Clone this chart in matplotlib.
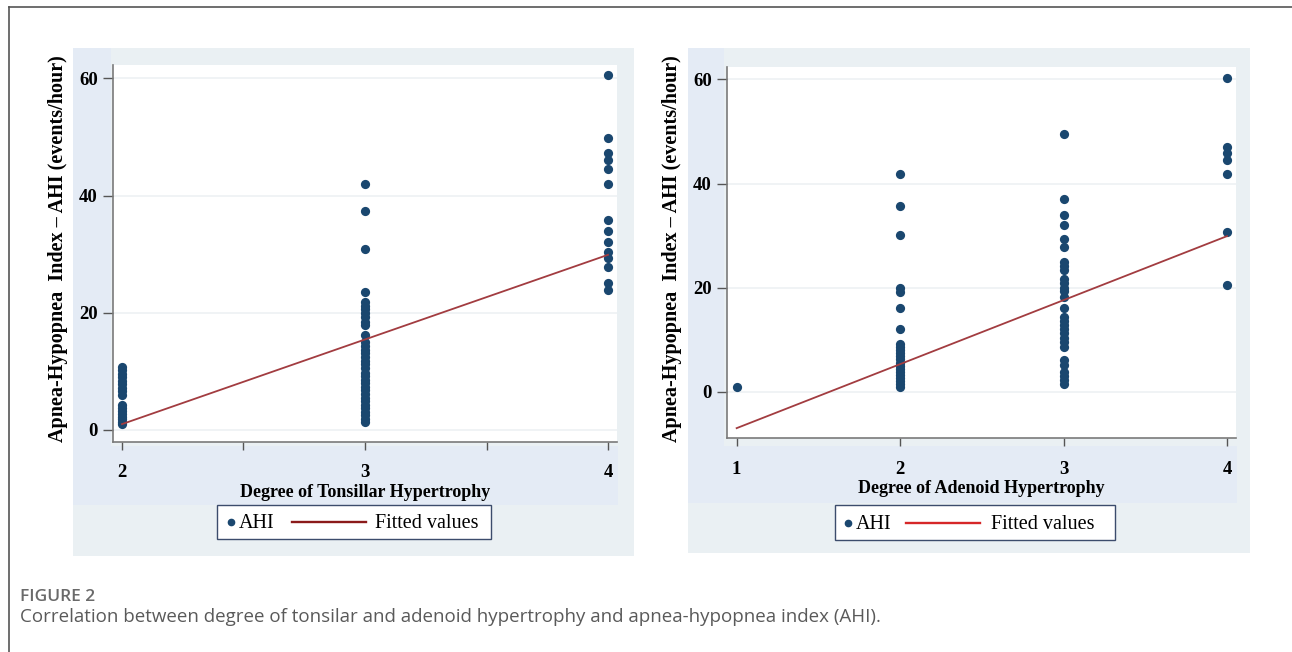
import matplotlib
matplotlib.use("Agg")
import matplotlib.pyplot as plt
from matplotlib.patches import Rectangle
from matplotlib.lines import Line2D

W, H = 1292, 652

# tonsillar hypertrophy grade -> AHI values
TONS_X = [2, 3, 4]
TONS_AHI = [
    [10.8, 10.2, 9.6, 9.0, 8.4, 7.8, 7.2, 6.6, 6.0, 4.3, 3.8, 3.3, 2.8, 2.3, 1.8, 1.4, 1.0],
    [42.0, 37.3, 30.9, 23.6, 21.8, 21.2, 20.6, 20.0, 19.3, 18.5, 18.0, 16.2, 15.0, 14.3, 13.7,
     13.1, 12.5, 11.8, 11.2, 10.5, 9.8, 9.2, 8.6, 8.0, 7.4, 6.8, 6.2, 5.5, 4.9, 4.3, 3.7, 3.1,
     2.5, 1.9, 1.4],
    [60.6, 49.8, 47.2, 46.1, 44.6, 42.0, 35.8, 34.0, 32.1, 30.3, 29.4, 27.9, 25.1, 23.9],
]
TONS_FIT_X = [2, 4]
TONS_FIT_Y = [1.0, 29.9]

# adenoid hypertrophy grade -> AHI values
ADEN_X = [1, 2, 3, 4]
ADEN_AHI = [
    [1.0],
    [41.8, 35.6, 30.1, 20.0, 19.2, 16.1, 12.0, 9.2, 8.6, 8.0, 7.4, 6.8, 6.2, 5.6, 5.0, 4.4,
     3.8, 3.2, 2.6, 2.0, 1.4, 0.9],
    [49.6, 37.1, 33.9, 32.1, 29.4, 27.8, 25.0, 24.2, 23.4, 21.6, 20.8, 20.0, 19.4, 18.2, 16.1,
     14.4, 13.6, 12.8, 12.0, 11.2, 10.4, 9.6, 8.6, 6.1, 5.2, 3.8, 3.0, 2.2, 1.4],
    [60.2, 47.0, 45.8, 44.5, 41.8, 30.7, 20.5],
]
ADEN_FIT_X = [1, 4]
ADEN_FIT_Y = [-7.0, 29.9]

YTICKS = [0, 20, 40, 60]
YLABEL = "Apnea-Hypopnea  Index \u2013 AHI (events/hour)"
LEG_LABELS = ["AHI", "Fitted values"]

NAVY = "#1a476f"
FIT = "#a23c40"
PANEL = "#eaf0f3"
BAND = "#e4ebf5"
SERIF = ["Liberation Serif", "DejaVu Serif"]


def fx(px):
    return px / W


def fy(py):
    return 1 - py / H


def rect(fig, x0, y0, x1, y1, color, edge=None, z=-10):
    fig.patches.append(Rectangle((fx(x0), fy(y1)), fx(x1 - x0), (y1 - y0) / H,
                                 transform=fig.transFigure, facecolor=color,
                                 edgecolor=edge or "none", lw=1.0 if edge else 0, zorder=z))


def panel(fig, box, xs, groups, fit_x, fit_y, xlim, ylim, xticks, minor, xlabel, pad):
    x0, y0, x1, y1 = box
    ax = fig.add_axes([fx(x0), fy(y1), fx(x1 - x0), (y1 - y0) / H])
    ax.set_facecolor("white")
    for g in YTICKS:
        ax.axhline(g, color="#edf1f4", lw=1.2, zorder=0)
    for x, vals in zip(xs, groups):
        ax.scatter([x] * len(vals), vals, s=44, color=NAVY, zorder=3, linewidths=0)
    ax.plot(fit_x, fit_y, color=FIT, lw=1.3, zorder=4)
    ax.set_xlim(*xlim)
    ax.set_ylim(*ylim)
    ax.set_xticks(xticks)
    ax.set_xticks(minor, minor=True)
    ax.set_yticks(YTICKS)
    for s in ("top", "right"):
        ax.spines[s].set_visible(False)
    for s in ("left", "bottom"):
        ax.spines[s].set_color("#7a7a7a")
        ax.spines[s].set_linewidth(1.2)
    ax.tick_params(axis="x", which="both", length=6, width=1, color="#555", pad=pad)
    ax.tick_params(axis="y", length=7, width=1, color="#555", pad=4)
    for lab in ax.get_xticklabels() + ax.get_yticklabels():
        lab.set_fontfamily(SERIF)
        lab.set_fontweight("bold")
        lab.set_fontsize(13.5)
    ax.set_xlabel(xlabel, fontfamily=SERIF, fontweight="bold", fontsize=13, labelpad=2)
    return ax


def legend(fig, box, dot_x, ahi_x, line_x, fit_x, line_color):
    x0, y0, x1, y1 = box
    rect(fig, x0, y0, x1, y1, "white", edge="#3c4c6c", z=5)
    yc = (y0 + y1) / 2
    fig.add_artist(Line2D([fx(dot_x)], [fy(yc)], ls="none", marker="o", ms=4.5, color=NAVY,
                          zorder=6))
    fig.add_artist(Line2D([fx(line_x[0]), fx(line_x[1])], [fy(yc), fy(yc)], color=line_color,
                          lw=1.7, zorder=6))
    fig.text(fx(ahi_x), fy(yc + 2), LEG_LABELS[0], ha="left", va="center", fontfamily=SERIF,
             fontsize=14.5, zorder=6)
    fig.text(fx(fit_x), fy(yc + 2), LEG_LABELS[1], ha="left", va="center", fontfamily=SERIF,
             fontsize=14.5, zorder=6)


fig = plt.figure(figsize=(W / 100, H / 100), dpi=100)
fig.patch.set_facecolor("white")

# card frame
fig.add_artist(Line2D([fx(9), fx(W)], [fy(7), fy(7)], color="#555", lw=1.2))
fig.add_artist(Line2D([fx(9), fx(9)], [fy(7), 0], color="#555", lw=1.2))

# panel backgrounds
rect(fig, 73, 48, 634, 556, PANEL)
rect(fig, 73, 48, 111, 505, BAND)
rect(fig, 93, 446, 618, 505, BAND)
rect(fig, 688, 48, 1250, 553, PANEL)
rect(fig, 688, 48, 724, 503, BAND)
rect(fig, 708, 446, 1237, 503, BAND)

panel(fig, (113, 65, 617, 441.7), TONS_X, TONS_AHI, TONS_FIT_X, TONS_FIT_Y,
      (1.963, 4.037), (-2.0, 62.3), [2, 3, 4], [2.5, 3.5], "Degree of Tonsillar Hypertrophy", 10)
panel(fig, (727, 67, 1236, 438.3), ADEN_X, ADEN_AHI, ADEN_FIT_X, ADEN_FIT_Y,
      (0.941, 4.055), (-8.95, 62.4), [1, 2, 3, 4], [], "Degree of Adenoid Hypertrophy", 10)

fig.text(fx(58), fy(249), YLABEL, rotation=90, ha="center", va="center",
         fontfamily=SERIF, fontweight="bold", fontsize=14.5)
fig.text(fx(672), fy(249), YLABEL, rotation=90, ha="center", va="center",
         fontfamily=SERIF, fontweight="bold", fontsize=14.5)

legend(fig, (217, 505, 491, 539), 231, 239, (292, 366), 375, "#8b1a1a")
legend(fig, (835, 505, 1115, 540), 848, 856, (906, 980), 991, "#d62728")

fig.text(fx(20), fy(597), "FIGURE 2", ha="left", va="center", fontfamily="Open Sans",
         fontweight="semibold", fontsize=12.5, color="#6a6a6a")
fig.text(fx(20), fy(617),
         "Correlation between degree of tonsilar and adenoid hypertrophy and apnea-hypopnea index (AHI).",
         ha="left", va="center", fontfamily="Open Sans", fontsize=13.5, color="#5a5a5a")

fig.savefig("out.png", dpi=100)
